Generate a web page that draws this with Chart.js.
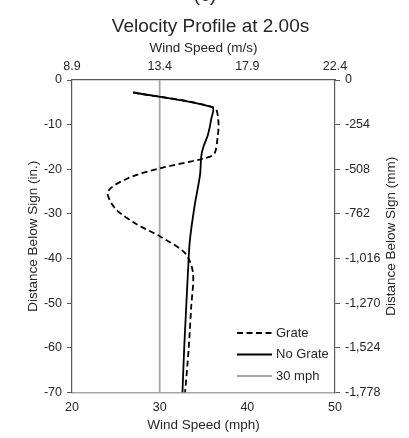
<!DOCTYPE html>
<html>
<head>
<meta charset="utf-8">
<script src="https://cdn.jsdelivr.net/npm/chart.js@4.4.1/dist/chart.umd.min.js"></script>
<style>
  html, body { margin: 0; padding: 0; background: #fff; }
  #wrap { width: 409px; height: 438px; }
</style>
</head>
<body>
<div id="wrap"><canvas id="profileChart" width="409" height="438"></canvas></div>
<script>
// depth below sign (in.) and wind speed (mph)
const grateDepth   = [-2.8, -6.2, -9.3, -13.0, -16.6, -17.7, -19.8, -22.0, -25.0, -28.7, -32.1, -35.0, -38.8, -43.2, -50.7, -60.4, -70.0];
const grateSpeed   = [27.0, 36.2, 36.7, 36.6, 36.2, 34.8, 30.0, 26.4, 24.1, 24.9, 27.2, 30.0, 32.9, 33.8, 33.6, 33.3, 32.9];
const noGrateDepth = [-2.8, -6.1, -8.6, -12.3, -14.9, -17.0, -21.3, -28.0, -35.8, -40.3, -50.0, -60.0, -70.0];
const noGrateSpeed = [27.0, 36.0, 35.9, 35.5, 35.0, 34.75, 34.6, 34.0, 33.45, 33.3, 33.05, 32.8, 32.6];
const limitDepth   = [0, -70];
const limitSpeed   = [30, 30];

const seriesNames = ['Grate', 'No Grate', '30 mph'];
const mpsTicks = ['8.9', '13.4', '17.9', '22.4'];                                   // top axis, 20..50 mph
const mmTicks  = ['-1,778', '-1,524', '-1,270', '-1,016', '-762', '-508', '-254', '0']; // right axis, -70..0 in.

const FONT = "'Liberation Sans', Arial, sans-serif";
const INK = '#262626';
const AXIS = '#595959';

const pts = (xs, ys) => xs.map((x, i) => ({ x, y: ys[i] }));

Chart.defaults.font.family = FONT;
Chart.defaults.color = INK;

// title, legend, right title (reads upward) and the clipped panel letter
const extras = {
  id: 'extras',
  afterDraw(chart) {
    const { ctx, chartArea: a } = chart;
    ctx.save();
    ctx.fillStyle = INK;

    ctx.font = `20px ${FONT}`;
    ctx.textAlign = 'center';
    ctx.textBaseline = 'alphabetic';
    ctx.fillText('(c)', 205, 1);

    ctx.font = `19px ${FONT}`;
    ctx.fillText('Velocity Profile at 2.00s', 210.5, 32);

    ctx.font = `13.5px ${FONT}`;
    ctx.textBaseline = 'middle';
    ctx.translate(391, (a.top + a.bottom) / 2);
    ctx.rotate(-Math.PI / 2);
    ctx.fillText('Distance Below Sign (mm)', 0, 0);
    ctx.restore();

    ctx.save();
    ctx.font = `13px ${FONT}`;
    ctx.textAlign = 'left';
    ctx.textBaseline = 'middle';
    const x0 = a.right - 98, x1 = a.right - 63;
    chart.data.datasets.forEach((ds, i) => {
      const y = 333 + i * 21.5;
      ctx.beginPath();
      ctx.strokeStyle = ds.borderColor;
      ctx.lineWidth = ds.borderWidth;
      ctx.setLineDash(ds.borderDash || []);
      ctx.moveTo(x0, y);
      ctx.lineTo(x1, y);
      ctx.stroke();
      ctx.setLineDash([]);
      ctx.fillStyle = INK;
      ctx.fillText(ds.label, x1 + 4, y);
    });
    ctx.restore();
  }
};

new Chart(document.getElementById('profileChart'), {
  type: 'scatter',
  data: {
    datasets: [
      { label: seriesNames[0], data: pts(grateSpeed, grateDepth), showLine: true, borderColor: '#000',
        borderWidth: 1.8, borderDash: [6, 3.5], pointRadius: 0, tension: 0.3, xAxisID: 'x', yAxisID: 'y' },
      { label: seriesNames[1], data: pts(noGrateSpeed, noGrateDepth), showLine: true, borderColor: '#000',
        borderWidth: 1.8, pointRadius: 0, tension: 0.3, xAxisID: 'x', yAxisID: 'y' },
      { label: seriesNames[2], data: pts(limitSpeed, limitDepth), showLine: true, borderColor: '#a6a6a6',
        borderWidth: 1.8, pointRadius: 0, xAxisID: 'x', yAxisID: 'y' }
    ]
  },
  options: {
    responsive: false,
    animation: false,
    devicePixelRatio: 1,
    layout: { padding: 0 },
    plugins: {
      legend: { display: false },
      tooltip: { enabled: false },
      title: { display: false }
    },
    scales: {
      x: {
        type: 'linear', position: 'bottom', min: 20, max: 50,
        ticks: { stepSize: 10, padding: 7.5, font: { size: 12.5 } },
        grid: { display: false, drawTicks: false },
        border: { display: true, color: '#a6a6a6', width: 1.5 },
        title: { display: true, text: 'Wind Speed (mph)', font: { size: 13.5 }, padding: { top: 0, bottom: 5 } },
        afterFit: s => { s.height = 45.5; }
      },
      x2: {
        type: 'linear', position: 'top', min: 20, max: 50,
        ticks: { stepSize: 10, padding: 6, font: { size: 12.5 }, callback: (v, i) => mpsTicks[i] },
        grid: { display: false, drawTicks: false },
        border: { display: true, color: AXIS, width: 1.2 },
        title: { display: true, text: 'Wind Speed (m/s)', font: { size: 13.5 }, padding: { top: 39.8, bottom: 0 } },
        afterFit: s => { s.height = 80; }
      },
      y: {
        type: 'linear', position: 'left', min: -70, max: 0,
        ticks: { stepSize: 10, padding: 5, font: { size: 12.5 } },
        grid: { drawOnChartArea: false, drawTicks: true, tickLength: 5, color: AXIS },
        border: { display: true, color: AXIS, width: 1.2 },
        title: { display: true, text: 'Distance Below Sign (in.)', font: { size: 13.5 }, padding: { top: 25, bottom: 0 } },
        afterFit: s => { s.width = 72; }
      },
      y2: {
        type: 'linear', position: 'right', min: -70, max: 0,
        ticks: { stepSize: 10, padding: 5, font: { size: 12.5 }, callback: (v, i) => mmTicks[i] },
        grid: { drawOnChartArea: false, drawTicks: true, tickLength: 5, color: AXIS },
        border: { display: true, color: AXIS, width: 1.2 },
        afterFit: s => { s.width = 74; }
      }
    }
  },
  plugins: [extras]
});
</script>
</body>
</html>
